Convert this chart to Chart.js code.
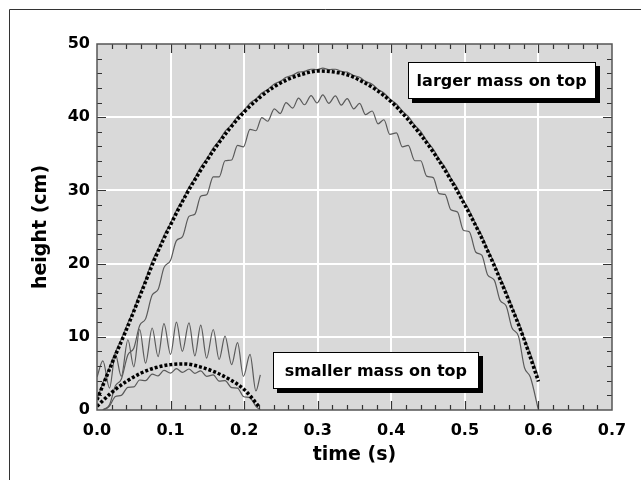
<!DOCTYPE html>
<html>
<head>
<meta charset="utf-8">
<script src="https://cdn.jsdelivr.net/npm/chart.js@4.4.0/dist/chart.umd.min.js"></script>
<style>
  html, body { margin: 0; padding: 0; background: #fff; }
  canvas { display: block; }
</style>
</head>
<body>
<canvas id="grafico" width="641" height="480"></canvas>
<script>
// Marcas de los ejes
const marcasX = [0, 0.1, 0.2, 0.3, 0.4, 0.5, 0.6, 0.7];
const marcasY = [0, 10, 20, 30, 40, 50];

// Tiempos de muestreo (s)
const tiempoFino = [0, 0.008, 0.017, 0.025, 0.033, 0.042, 0.050, 0.058, 0.066, 0.075, 0.083, 0.091, 0.100, 0.108, 0.116, 0.125, 0.133, 0.141, 0.149, 0.158, 0.166, 0.174, 0.183, 0.191, 0.199, 0.208, 0.216, 0.224, 0.232, 0.241, 0.249, 0.257, 0.266, 0.274, 0.282, 0.291, 0.299, 0.307, 0.315, 0.324, 0.332, 0.340, 0.349, 0.357, 0.365, 0.374, 0.382, 0.390, 0.398, 0.407, 0.415, 0.423, 0.432, 0.440, 0.448, 0.457, 0.465, 0.473, 0.481, 0.490, 0.498, 0.506, 0.515, 0.523, 0.531, 0.540, 0.548, 0.556, 0.564, 0.573, 0.581, 0.589, 0.600];
const tiempoChico = [0, 0.008, 0.017, 0.025, 0.033, 0.042, 0.050, 0.058, 0.066, 0.075, 0.083, 0.091, 0.100, 0.108, 0.116, 0.125, 0.133, 0.141, 0.149, 0.158, 0.166, 0.174, 0.183, 0.191, 0.199, 0.208, 0.216, 0.222];
const tiempoGrueso = [0, 0.02, 0.04, 0.06, 0.08, 0.10, 0.12, 0.14, 0.16, 0.18, 0.20, 0.22, 0.24, 0.26, 0.28, 0.30, 0.32, 0.34, 0.36, 0.38, 0.40, 0.42, 0.44, 0.46, 0.48, 0.50, 0.52, 0.54, 0.56, 0.58, 0.60];

// Alturas (cm) - masa grande arriba
const grandeAjuste = [1.4, 6.3, 11.0, 16.0, 21.0, 25.3, 29.2, 32.6, 35.7, 38.4, 40.7, 42.6, 44.1, 45.2, 45.9, 46.3, 46.2, 45.8, 44.9, 43.7, 42.1, 40.0, 37.6, 34.8, 31.6, 28.0, 24.1, 19.7, 14.9, 9.8, 3.9];
const grandeAbajo = [1.5, 3.7, 5.85, 7.9, 9.65, 11.9, 13.75, 15.9, 17.85, 20.35, 21.95, 23.85, 25.55, 27.3, 28.65, 30.45, 31.7, 33.2, 34.3, 35.8, 36.8, 38.05, 39.0, 40.1, 40.85, 41.9, 42.5, 43.3, 43.8, 44.55, 44.9, 45.45, 45.75, 46.15, 46.25, 46.55, 46.5, 46.7, 46.5, 46.55, 46.25, 46.15, 45.7, 45.45, 44.9, 44.5, 43.8, 43.3, 42.5, 41.8, 40.85, 40.1, 38.9, 38.05, 36.8, 35.65, 34.3, 33.2, 31.7, 30.3, 28.65, 27.3, 25.35, 23.85, 21.95, 20.1, 18.1, 16.3, 14.2, 12.05, 9.75, 7.75, 4.5];
const grandeArriba = [null, 0, 0.7, 3.3, 4.2, 7.55, 8.45, 11.55, 12.45, 15.7, 16.45, 19.45, 20.45, 23.15, 23.65, 26.45, 26.75, 29.2, 29.4, 31.85, 31.85, 34.05, 34.15, 36.15, 35.95, 38.35, 38.15, 39.95, 39.45, 41.15, 40.5, 42.0, 41.25, 42.6, 41.7, 42.95, 41.95, 43.05, 41.9, 42.9, 41.65, 42.55, 41.15, 41.9, 40.35, 40.85, 39.1, 39.65, 37.65, 37.85, 35.95, 36.15, 34.05, 34.05, 31.95, 31.75, 29.55, 29.45, 27.35, 27.05, 24.55, 24.35, 21.55, 21.15, 18.45, 17.75, 14.95, 14.25, 11.25, 10.05, 5.8, 4.5, 0];

// Alturas (cm) - masa chica arriba
const chicoAjuste = [0.5, 2.4, 3.9, 5.05, 5.8, 6.2, 6.3, 5.9, 5.2, 4.2, 2.8, 0.5];
const chicoAbajo = [null, 0, 0.55, 1.85, 2.0, 3.1, 3.15, 4.1, 4.0, 4.9, 4.65, 5.4, 5.05, 5.65, 5.15, 5.6, 5.0, 5.35, 4.6, 4.8, 3.95, 4.0, 3.05, 3.0, 1.85, 1.65, 0.5, 0];
const chicoArriba = [4.5, 6.7, 3.0, 7.6, 4.6, 9.6, 5.9, 11.0, 6.4, 11.2, 7.3, 11.8, 7.6, 12.0, 8.0, 11.9, 7.4, 11.6, 7.1, 11.0, 6.9, 10.1, 6.2, 9.2, 4.6, 7.6, 2.6, 4.8];

// Rotulos en cajas (centro en unidades de datos)
const rotulos = [
    { texto: 'larger mass on top', t: 0.55, h: 45.0, ancho: 188 },
    { texto: 'smaller mass on top', t: 0.379, h: 5.35, ancho: 206 }
];

const fuente = '"DejaVu Sans", sans-serif';

function puntos(tiempos, alturas) {
    const salida = [];
    for (let i = 0; i < alturas.length; i++) {
        if (alturas[i] !== null) salida.push({ x: tiempos[i], y: alturas[i] });
    }
    return salida;
}

function lineaFina(tiempos, alturas) {
    return {
        data: puntos(tiempos, alturas),
        borderColor: '#5a5a5a',
        borderWidth: 1.2,
        fill: false
    };
}

function lineaPunteada(tiempos, alturas) {
    return {
        data: puntos(tiempos, alturas),
        borderColor: '#000',
        borderWidth: 3.5,
        borderDash: [3, 2],
        borderCapStyle: 'butt',
        fill: false
    };
}

// Plugin: fondo gris, marcas hacia dentro, borde y cajas
const decorado = {
    id: 'decorado',
    beforeDraw(chart) {
        const { ctx, chartArea: a } = chart;
        ctx.save();
        ctx.fillStyle = '#d9d9d9';
        ctx.fillRect(a.left, a.top, a.right - a.left, a.bottom - a.top);
        ctx.restore();
    },
    afterDatasetsDraw(chart) {
        const { ctx, chartArea: a } = chart;
        const ex = chart.scales.x, ey = chart.scales.y;
        ctx.save();
        ctx.strokeStyle = '#333';
        ctx.lineWidth = 1.2;
        ctx.beginPath();
        for (let i = 1; i < 35; i++) {
            const px = Math.round(ex.getPixelForValue(i * 0.02)) + 0.5;
            const largo = i % 5 === 0 ? 9 : 5;
            ctx.moveTo(px, a.bottom); ctx.lineTo(px, a.bottom - largo);
            ctx.moveTo(px, a.top); ctx.lineTo(px, a.top + largo);
        }
        for (let i = 1; i < 25; i++) {
            const py = Math.round(ey.getPixelForValue(i * 2)) + 0.5;
            const largo = i % 5 === 0 ? 9 : 5;
            ctx.moveTo(a.left, py); ctx.lineTo(a.left + largo, py);
            ctx.moveTo(a.right, py); ctx.lineTo(a.right - largo, py);
        }
        ctx.stroke();
        ctx.strokeStyle = '#555';
        ctx.lineWidth = 1.5;
        ctx.strokeRect(a.left, a.top, a.right - a.left, a.bottom - a.top);
        ctx.restore();
    },
    afterDraw(chart) {
        const { ctx } = chart;
        const ex = chart.scales.x, ey = chart.scales.y;
        ctx.save();
        // marco exterior
        ctx.strokeStyle = '#333';
        ctx.lineWidth = 1;
        ctx.beginPath();
        ctx.moveTo(9.5, 480); ctx.lineTo(9.5, 9.5); ctx.lineTo(641, 9.5);
        ctx.stroke();
        // cajas de texto
        rotulos.forEach(r => {
            const cx = ex.getPixelForValue(r.t);
            const cy = ey.getPixelForValue(r.h);
            const alto = 37;
            const x = Math.round(cx - r.ancho / 2), y = Math.round(cy - alto / 2);
            ctx.fillStyle = '#000';
            ctx.fillRect(x + 4, y + 4, r.ancho, alto);
            ctx.fillStyle = '#fff';
            ctx.fillRect(x, y, r.ancho, alto);
            ctx.strokeStyle = '#000';
            ctx.lineWidth = 1;
            ctx.strokeRect(x + 0.5, y + 0.5, r.ancho - 1, alto - 1);
            ctx.fillStyle = '#000';
            ctx.font = 'bold 16px ' + fuente;
            ctx.textAlign = 'center';
            ctx.textBaseline = 'middle';
            ctx.fillText(r.texto, cx, cy + 1);
        });
        ctx.restore();
    }
};

const fuenteMarcas = { family: fuente, size: 16, weight: 'bold' };
const fuenteTitulo = { family: fuente, size: 19, weight: 'bold' };

new Chart(document.getElementById('grafico'), {
    type: 'line',
    data: {
        datasets: [
            lineaPunteada(tiempoGrueso, grandeAjuste),
            lineaPunteada(tiempoGrueso, chicoAjuste),
            lineaFina(tiempoFino, grandeAbajo),
            lineaFina(tiempoFino, grandeArriba),
            lineaFina(tiempoChico, chicoAbajo),
            lineaFina(tiempoChico, chicoArriba)
        ]
    },
    options: {
        responsive: false,
        animation: false,
        events: [],
        layout: { padding: { left: 0, top: 44, right: 29, bottom: 0 } },
        plugins: { legend: { display: false }, tooltip: { enabled: false } },
        elements: {
            point: { radius: 0 },
            line: { cubicInterpolationMode: 'monotone' }
        },
        scales: {
            x: {
                type: 'linear',
                min: 0,
                max: 0.7,
                afterFit(s) { s.height = 70; },
                afterBuildTicks(s) { s.ticks = marcasX.map(v => ({ value: v })); },
                ticks: {
                    callback: v => v.toFixed(1),
                    font: fuenteMarcas,
                    color: '#000',
                    padding: 11,
                    maxRotation: 0,
                    autoSkip: false
                },
                grid: {
                    color: c => (c.index === 0 || c.index === marcasX.length - 1) ? 'rgba(0,0,0,0)' : '#fff',
                    lineWidth: 2,
                    drawTicks: false
                },
                border: { display: false },
                title: { display: true, text: 'time (s)', font: fuenteTitulo, color: '#000', padding: { top: 0, bottom: 14 } }
            },
            y: {
                type: 'linear',
                min: 0,
                max: 50,
                afterFit(s) { s.width = 97; },
                afterBuildTicks(s) { s.ticks = marcasY.map(v => ({ value: v })); },
                ticks: {
                    font: fuenteMarcas,
                    color: '#000',
                    padding: 7
                },
                grid: {
                    color: c => (c.index === 0 || c.index === marcasY.length - 1) ? 'rgba(0,0,0,0)' : '#fff',
                    lineWidth: 2,
                    drawTicks: false
                },
                border: { display: false },
                title: { display: true, text: 'height (cm)', font: fuenteTitulo, color: '#000', padding: { top: 30, bottom: 0 } }
            }
        }
    },
    plugins: [decorado]
});
</script>
</body>
</html>
